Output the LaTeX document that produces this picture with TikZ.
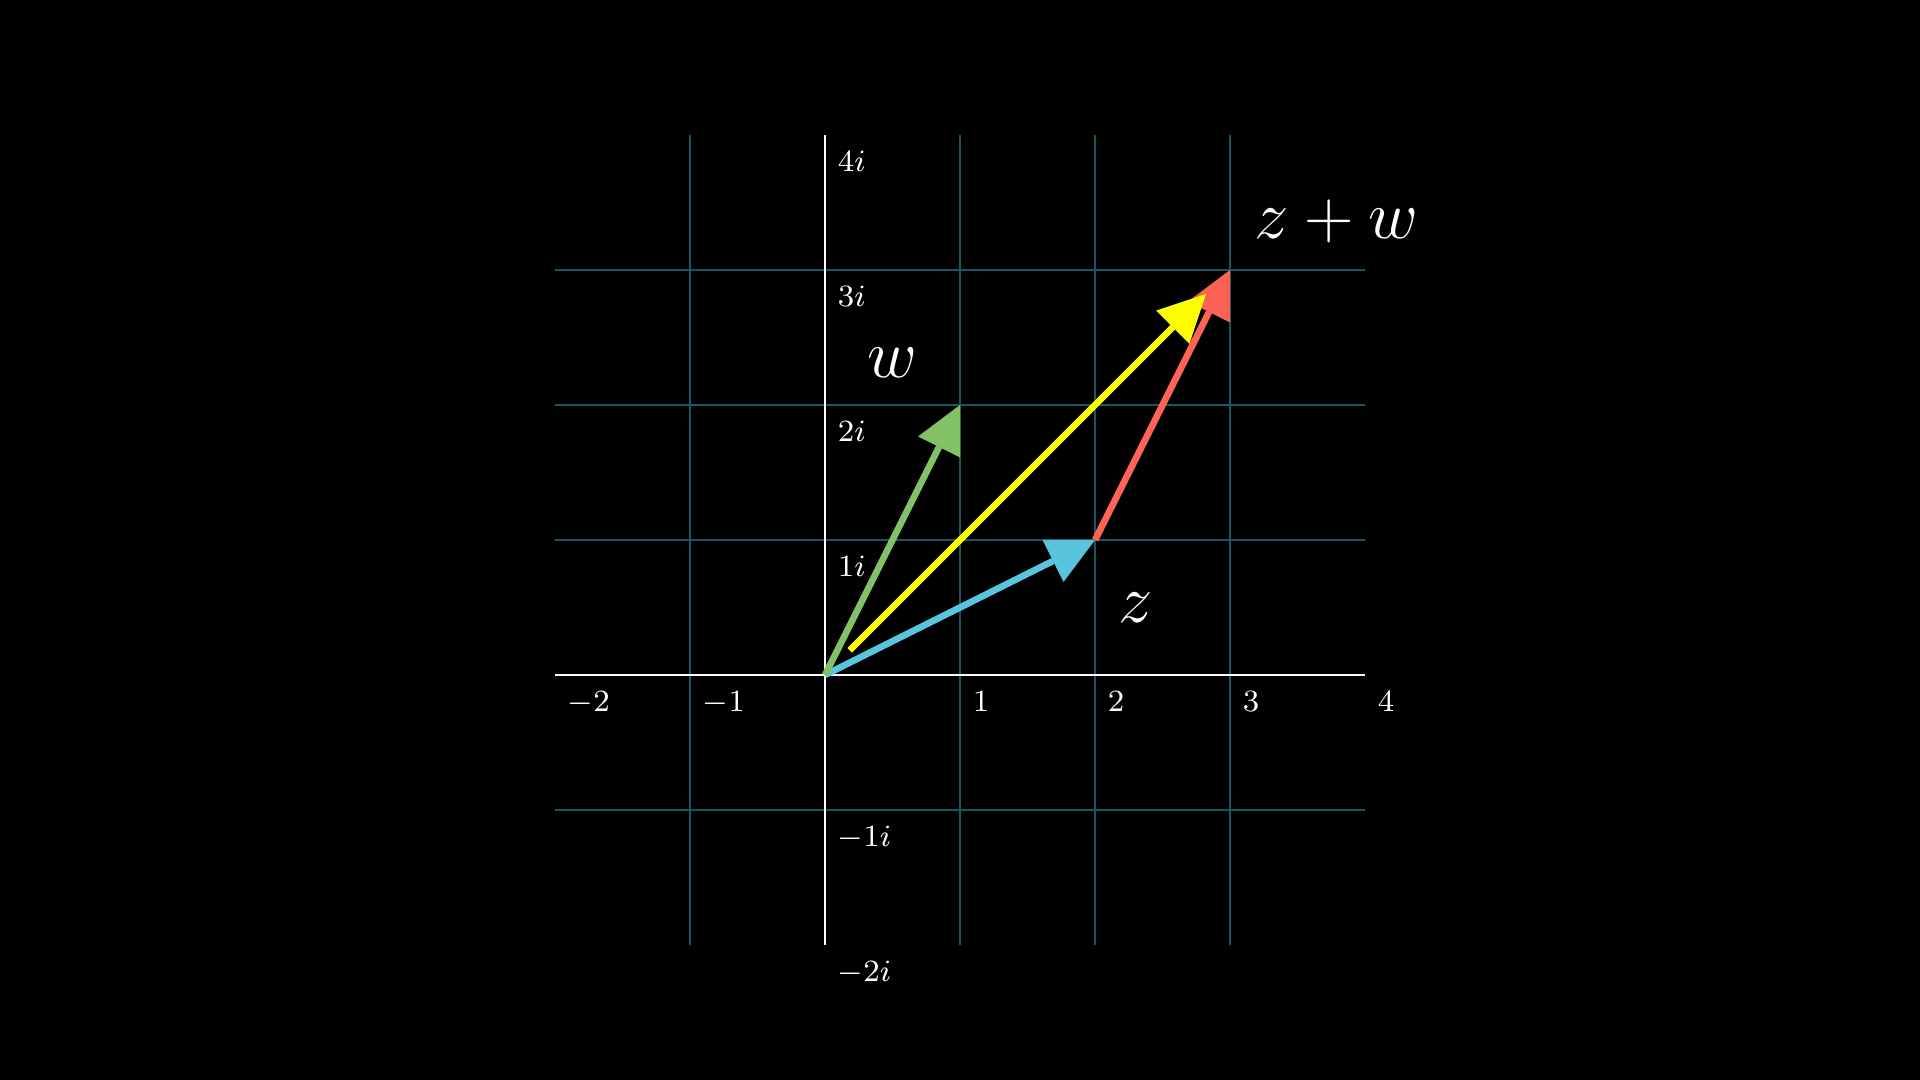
\documentclass[tikz,border=0pt]{standalone}
\usepackage{fix-cm}
\definecolor{gridteal}{RGB}{24,86,100}
\definecolor{vecblue}{HTML}{58C4DD}
\definecolor{vecgreen}{HTML}{83C167}
\definecolor{vecred}{HTML}{FC6255}
\definecolor{vecyellow}{HTML}{FFFF00}
\usetikzlibrary{arrows.meta}

\begin{document}
\begin{tikzpicture}[scale=1.35,
  gridline/.style={draw=gridteal, line width=0.55pt},
  axisline/.style={draw=white, line width=0.8pt},
  ticklabel/.style={anchor=north west, inner sep=0pt, text=white,
                    font=\fontsize{8.8}{10}\selectfont},
  vec/.style={-{Triangle[length=0.47cm, width=0.47cm, line width'=0pt]},
              line width=1.9pt},
  veclabel/.style={text=white, inner sep=0pt, font=\fontsize{19.5}{23}\selectfont}
]
% Background
\fill[black] (-6.111,-3) rectangle (8.111,5);

% Grid
\foreach \x in {-1,1,2,3} \draw[gridline] (\x,-2) -- (\x,4);
\foreach \y in {-1,1,2,3} \draw[gridline] (-2,\y) -- (4,\y);

% Axes
\draw[axisline] (-2,0) -- (4,0);
\draw[axisline] (0,-2) -- (0,4);

% Tick labels
\foreach \x in {-2,-1,1,2,3,4}
  \node[ticklabel] (re\x) at (\x+0.09,-0.115) {$\x$};
\foreach \y in {4,3,2,1,-1,-2}
  \node[ticklabel] (im\y) at (0.09,\y-0.115) {$\y i$};

% Points
\coordinate (O) at (0,0);
\coordinate (Z) at (2,1);
\coordinate (W) at (1,2);
\coordinate (S) at (3,3);

% Vectors
\draw[vec, vecblue]   (O) -- (Z);
\draw[vec, vecgreen]  (O) -- (W);
\draw[vec, vecred]    (Z) -- (S);
\draw[vec, vecyellow, shorten <=0.35cm, shorten >=0.34cm] (O) -- (S);

% Vector labels
\node[veclabel] (wlabel)   at (0.50,2.315) {$w$};
\node[veclabel] (zlabel)   at (2.30,0.50)  {$z$};
\node[veclabel] (sumlabel) at (3.79,3.36)  {$z+w$};
\end{tikzpicture}
\end{document}
